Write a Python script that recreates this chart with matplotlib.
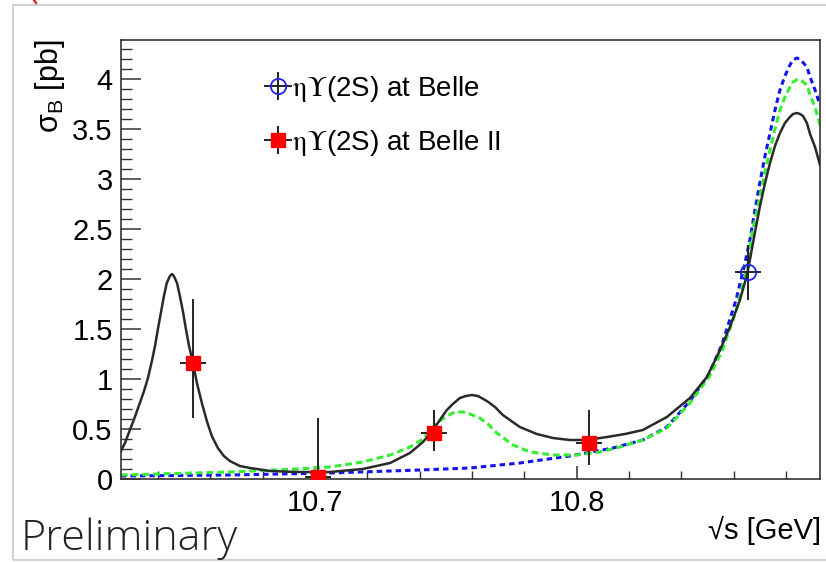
import matplotlib
matplotlib.use("Agg")
import matplotlib.pyplot as plt
from matplotlib.ticker import MultipleLocator, FixedLocator
from matplotlib.patches import Rectangle
from matplotlib.lines import Line2D

plt.rcParams['font.family'] = ['Liberation Sans', 'DejaVu Sans']
plt.rcParams['mathtext.fontset'] = 'custom'
plt.rcParams['mathtext.rm'] = 'Liberation Sans'
plt.rcParams['mathtext.it'] = 'Liberation Sans:italic'
plt.rcParams['mathtext.bf'] = 'Liberation Sans:bold'

# ---------------- data ----------------
belle2_x = [10.6534, 10.7011, 10.7455, 10.8047]
belle2_y = [1.16, 0.02, 0.46, 0.36]
belle2_err_lo = [0.55, 0.02, 0.18, 0.22]
belle2_err_hi = [0.64, 0.59, 0.23, 0.33]
belle2_xerr = [0.005, 0.005, 0.005, 0.005]

belle_x = [10.8655]
belle_y = [2.07]
belle_err_lo = [0.28]
belle_err_hi = [0.27]
belle_xerr = [0.005]

fit_total_x = [10.6259, 10.6274, 10.6293, 10.6312, 10.6331, 10.6347, 10.6362, 10.6377,
               10.6389, 10.6400, 10.6412, 10.6423, 10.6434, 10.6446, 10.6454, 10.6461,
               10.6473, 10.6484, 10.6496, 10.6507, 10.6519, 10.6534, 10.6549, 10.6568,
               10.6587, 10.6606, 10.6629, 10.6652, 10.6675, 10.6713, 10.6752, 10.6828,
               10.6931, 10.7057, 10.7183, 10.7287, 10.7363, 10.7413, 10.7451, 10.7504,
               10.7527, 10.7554, 10.7577, 10.7600, 10.7623, 10.7657, 10.7688, 10.7718,
               10.7783, 10.7848, 10.7909, 10.7974, 10.8039, 10.8116, 10.8185, 10.8253,
               10.8345, 10.8433, 10.8498, 10.8548, 10.8586, 10.8624, 10.8651, 10.8662,
               10.8681, 10.8700, 10.8719, 10.8739, 10.8758, 10.8777, 10.8796, 10.8815,
               10.8827, 10.8842, 10.8854, 10.8865, 10.8880, 10.8892, 10.8911, 10.8930]
fit_total_y = [0.28, 0.36, 0.49, 0.62, 0.76, 0.88, 1.01, 1.18,
               1.33, 1.50, 1.67, 1.83, 1.96, 2.03, 2.05, 2.03,
               1.96, 1.83, 1.67, 1.50, 1.33, 1.16, 0.96, 0.76,
               0.58, 0.43, 0.31, 0.23, 0.18, 0.13, 0.11, 0.08,
               0.07, 0.07, 0.10, 0.16, 0.26, 0.37, 0.49, 0.69,
               0.75, 0.81, 0.83, 0.84, 0.83, 0.78, 0.72, 0.64,
               0.52, 0.45, 0.41, 0.39, 0.39, 0.42, 0.45, 0.49,
               0.62, 0.81, 1.02, 1.29, 1.52, 1.79, 2.04, 2.19,
               2.46, 2.72, 2.95, 3.16, 3.33, 3.46, 3.56, 3.62,
               3.65, 3.66, 3.65, 3.63, 3.56, 3.45, 3.32, 3.14]

fit_blue_x = [10.6259, 10.6675, 10.7057, 10.7401, 10.7592, 10.7783, 10.7974, 10.8139,
              10.8253, 10.8345, 10.8433, 10.8506, 10.8556, 10.8609, 10.8640, 10.8662,
              10.8681, 10.8700, 10.8719, 10.8739, 10.8758, 10.8777, 10.8796, 10.8815,
              10.8827, 10.8842, 10.8857, 10.8880, 10.8892, 10.8911, 10.8930]
fit_blue_y = [0.03, 0.04, 0.06, 0.09, 0.11, 0.16, 0.23, 0.31,
              0.39, 0.52, 0.78, 1.05, 1.35, 1.79, 2.12, 2.39,
              2.68, 2.96, 3.22, 3.46, 3.69, 3.89, 4.03, 4.14,
              4.19, 4.21, 4.19, 4.12, 4.02, 3.89, 3.74]

fit_green_x = [10.6259, 10.6675, 10.6931, 10.7057, 10.7183, 10.7287, 10.7363, 10.7413,
               10.7466, 10.7497, 10.7527, 10.7546, 10.7566, 10.7592, 10.7630, 10.7661,
               10.7695, 10.7757, 10.7822, 10.7909, 10.8001, 10.8089, 10.8165, 10.8253,
               10.8345, 10.8433, 10.8506, 10.8556, 10.8609, 10.8651, 10.8670, 10.8700,
               10.8719, 10.8739, 10.8758, 10.8777, 10.8796, 10.8815, 10.8827, 10.8846,
               10.8861, 10.8880, 10.8892, 10.8911, 10.8930]
fit_green_y = [0.04, 0.07, 0.10, 0.12, 0.17, 0.24, 0.32, 0.40,
               0.56, 0.62, 0.66, 0.67, 0.67, 0.65, 0.61, 0.55,
               0.46, 0.34, 0.27, 0.24, 0.24, 0.27, 0.32, 0.39,
               0.51, 0.76, 1.02, 1.28, 1.68, 2.10, 2.45, 2.82,
               3.06, 3.29, 3.50, 3.69, 3.82, 3.92, 3.97, 4.00,
               3.98, 3.94, 3.84, 3.72, 3.54]

x_major = [10.7, 10.8]
legend_labels = [r"$\mathrm{\eta\Upsilon}$(2S) at Belle", r"$\mathrm{\eta\Upsilon}$(2S) at Belle II"]

# ---------------- figure ----------------
W, H = 826, 562
fig = plt.figure(figsize=(W / 100, H / 100), dpi=100)
ax = fig.add_axes([121 / W, 1 - 479 / H, (820 - 121) / W, (479 - 40) / H])

ax.plot(fit_blue_x, fit_blue_y, color='#1414f0', lw=2.2, dashes=(1.8, 1.3), zorder=2)
ax.plot(fit_green_x, fit_green_y, color='#33ee33', lw=2.2, dashes=(2.2, 1.3), zorder=2)
ax.plot(fit_total_x, fit_total_y, color='#2a2a2a', lw=1.8, zorder=3)

eb1 = ax.errorbar(belle_x, belle_y, yerr=[belle_err_lo, belle_err_hi], xerr=belle_xerr,
                  fmt='o', ms=11, mfc='none', mec='#2222ee', mew=1.3,
                  ecolor='#222222', elinewidth=1.4, capsize=0, zorder=5)
eb2 = ax.errorbar(belle2_x, belle2_y, yerr=[belle2_err_lo, belle2_err_hi], xerr=belle2_xerr,
                  fmt='s', ms=10.5, mfc='red', mec='red',
                  ecolor='#222222', elinewidth=1.4, capsize=0, zorder=5)

ax.set_xlim(10.6259, 10.8930)
ax.set_ylim(0, 4.39)
ax.xaxis.set_major_locator(FixedLocator(x_major))
ax.xaxis.set_minor_locator(MultipleLocator(0.02))
ax.yaxis.set_major_locator(MultipleLocator(0.5))
ax.yaxis.set_minor_locator(MultipleLocator(0.1))
ax.yaxis.set_major_formatter(matplotlib.ticker.FuncFormatter(lambda v, p: ('%g' % v)))

ax.tick_params(axis='y', which='major', direction='in', length=14.5, width=1.1, color='#333333',
               labelsize=21, pad=6)
ax.tick_params(axis='y', which='minor', direction='in', length=8, width=1.0, color='#333333')
ax.tick_params(axis='x', which='major', direction='in', length=9.5, width=1.1, color='#333333',
               labelsize=21, pad=7)
ax.tick_params(axis='x', which='minor', direction='in', length=5.8, width=1.0, color='#333333')
for s in ax.spines.values():
    s.set_color('#333333')
    s.set_linewidth(1.2)

leg = ax.legend([eb1, eb2], legend_labels, loc='upper left',
                bbox_to_anchor=(268 / W, 1 - 74 / H), bbox_transform=fig.transFigure,
                frameon=False, fontsize=20, handlelength=0.7, handletextpad=0.15,
                labelspacing=0.85, borderpad=0, borderaxespad=0)
for t in leg.get_texts():
    t.set_math_fontfamily('stix')

fig.text(50 / W, 1 - 40 / H, r"$\mathrm{\sigma}_{\mathrm{B}}$ [pb]", rotation=90, ha='center',
         va='top', fontsize=22)
fig.text(821 / W, 1 - 530 / H, "\u221as [GeV]", ha='right', va='center', fontsize=21)
fig.text(21 / W, 1 - 550 / H, "Preliminary", ha='left', va='baseline', fontsize=31,
         family=['Open Sans', 'DejaVu Sans'], fontweight='light', color='#222222')

fig.patches.append(Rectangle((13 / W, 1 - 560 / H), (840 - 13) / W, (560 - 5) / H,
                             transform=fig.transFigure, fill=False, edgecolor='#d2d2d2',
                             lw=1.5, zorder=0))
fig.lines.append(Line2D([34 / W, 36 / W], [1.0, 1 - 3 / H], transform=fig.transFigure,
                        color='red', lw=1.5))

fig.savefig("out.png", dpi=100)
